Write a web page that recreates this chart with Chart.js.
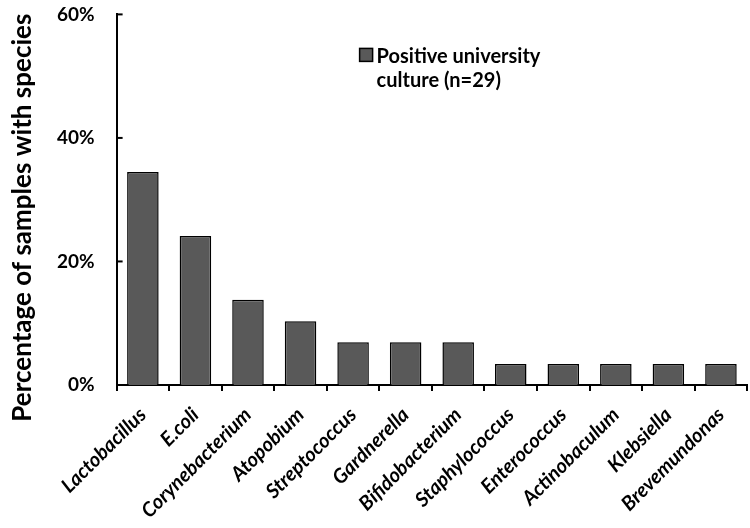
<!DOCTYPE html>
<html>
<head>
<meta charset="utf-8">
<script src="https://cdn.jsdelivr.net/npm/chart.js@4/dist/chart.umd.min.js"></script>
<style>
  html, body { margin: 0; padding: 0; background: #fff; }
  #wrap { width: 750px; height: 528px; overflow: hidden; }
  #myChart { display: block; margin-top: -19px; }
</style>
</head>
<body>
<div id="wrap"><canvas id="myChart" width="750" height="554"></canvas></div>
<script>
const species = ['Lactobacillus', 'E.coli', 'Corynebacterium', 'Atopobium', 'Streptococcus',
  'Gardnerella', 'Bifidobacterium', 'Staphylococcus', 'Enterococcus', 'Actinobaculum',
  'Klebsiella', 'Brevemundonas'];
const positivePct = [34.5, 24.1, 13.8, 10.3, 6.9, 6.9, 6.9, 3.4, 3.4, 3.4, 3.4, 3.4];
const yTicks = [0, 20, 40, 60];
const legendLines = ['Positive university', 'culture (n=29)'];
const yTitle = 'Percentage of samples with species';

const FONT = 'Lato, "Open Sans", sans-serif';

// short tick marks pointing into the plot on the y axis
const innerTicks = {
  id: 'innerTicks',
  afterDraw(chart) {
    const { ctx, scales: { x, y } } = chart;
    ctx.save();
    ctx.strokeStyle = '#000';
    ctx.lineWidth = 2;
    yTicks.forEach(v => {
      const py = y.getPixelForValue(v);
      ctx.beginPath();
      ctx.moveTo(x.left, py);
      ctx.lineTo(x.left + 6, py);
      ctx.stroke();
    });
    ctx.restore();
  }
};

// y title sits a bit lower than the axis middle in the original
const yAxisTitle = {
  id: 'yAxisTitle',
  afterDraw(chart) {
    const { ctx, chartArea } = chart;
    ctx.save();
    ctx.translate(31, (chartArea.top + chartArea.bottom) / 2 + 18);
    ctx.rotate(-Math.PI / 2);
    ctx.fillStyle = '#000';
    ctx.font = 'bold 26px ' + FONT;
    ctx.textAlign = 'center';
    ctx.textBaseline = 'alphabetic';
    ctx.fillText(yTitle, 0, 0);
    ctx.restore();
  }
};

// legend sitting inside the plot area
const insideLegend = {
  id: 'insideLegend',
  afterDraw(chart) {
    const { ctx, chartArea } = chart;
    const bx = chartArea.left + 243, by = chartArea.top + 34;
    ctx.save();
    ctx.fillStyle = '#595959';
    ctx.strokeStyle = '#000';
    ctx.lineWidth = 1.5;
    ctx.fillRect(bx, by, 13, 13);
    ctx.strokeRect(bx, by, 13, 13);
    ctx.fillStyle = '#000';
    ctx.font = 'bold 20px ' + FONT;
    ctx.textBaseline = 'alphabetic';
    legendLines.forEach((t, i) => ctx.fillText(t, bx + 17, by + 15 + i * 24));
    ctx.restore();
  }
};

new Chart(document.getElementById('myChart'), {
  type: 'bar',
  data: {
    labels: species,
    datasets: [{
      label: legendLines.join(' '),
      data: positivePct,
      backgroundColor: '#595959',
      borderColor: '#000',
      borderWidth: 1.5,
      barPercentage: 0.6,
      categoryPercentage: 1.0
    }]
  },
  options: {
    responsive: false,
    animation: false,
    layout: { padding: { top: 0, right: 2, left: 35, bottom: 0 } },
    plugins: { legend: { display: false }, tooltip: { enabled: false } },
    scales: {
      x: {
        grid: { offset: true, drawOnChartArea: false, color: '#000', lineWidth: 2, tickLength: 6, tickColor: '#000' },
        border: { color: '#000', width: 2 },
        ticks: {
          color: '#000', minRotation: 45, maxRotation: 45, padding: 12,
          font: { family: FONT, size: 20, weight: 'bold', style: 'italic' }
        }
      },
      y: {
        min: 0, max: 60,
        afterBuildTicks(axis) { axis.ticks = yTicks.map(v => ({ value: v })); },
        grid: { display: false, drawTicks: false },
        border: { color: '#000', width: 2 },
        ticks: {
          color: '#000', padding: 22,
          callback: v => v + '%',
          font: { family: FONT, size: 19, weight: 'bold' }
        }
      }
    }
  },
  plugins: [innerTicks, yAxisTitle, insideLegend]
});
</script>
</body>
</html>
